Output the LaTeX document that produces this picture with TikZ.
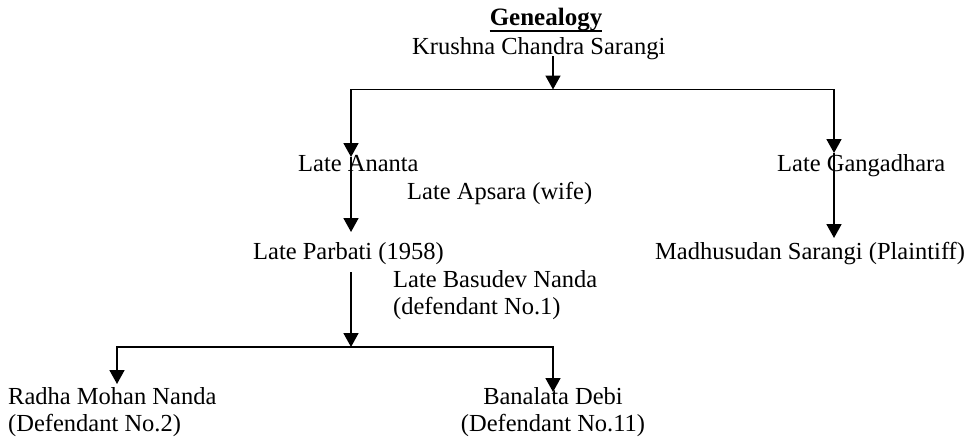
\documentclass[tikz,border=0pt]{standalone}
\usepackage{fontspec}
\setmainfont{Liberation Serif}
\usetikzlibrary{arrows.meta}
\begin{document}
\begin{tikzpicture}[x=1pt,y=-1pt,
  lbl/.style={inner sep=0pt, anchor=base west, font=\fontsize{24.5}{27}\selectfont},
  clbl/.style={inner sep=0pt, anchor=base, align=center, font=\fontsize{24.5}{27}\selectfont},
  conn/.style={line width=1.8pt, line cap=rect},
  arr/.style={line width=1.8pt, -{Triangle[width=15pt,length=14pt]}}]
\useasboundingbox (0,0) rectangle (975,439);
% texts
\node[clbl, font=\fontsize{25}{27}\selectfont\bfseries] (title) at (546,25) {Genealogy};
\draw[line width=1.5pt] ([yshift=-6pt]title.base west) -- ([yshift=-6pt]title.base east);
\node[lbl] (krushna) at (412,54) {Krushna Chandra Sarangi};
\node[lbl] (ananta) at (298,171) {Late Ananta};
\node[lbl] (apsara) at (407,199) {Late Apsara (wife)};
\node[lbl] (ganga) at (777,171) {Late Gangadhara};
\node[lbl] (parbati) at (253,259) {Late Parbati (1958)};
\node[lbl] (madhu) at (655,259) {Madhusudan Sarangi (Plaintiff)};
\node[lbl, align=left, anchor=north west] (basudev) at (393,270) {Late Basudev Nanda\\(defendant No.1)};
\node[lbl, align=left, anchor=north west] (radha) at (8,387) {Radha Mohan Nanda\\(Defendant No.2)};
\node[clbl, anchor=north] (banalata) at (553,387) {Banalata Debi\\(Defendant No.11)};
% connector points
\coordinate (kS) at (553,56);
\coordinate (kJ) at (553,89.5);
\coordinate (tL) at (351,89.5);
\coordinate (tR) at (834,89.5);
\coordinate (anT) at (351,157);
\coordinate (anB) at (351,157);
\coordinate (paT) at (351,232);
\coordinate (gaT) at (834,153);
\coordinate (gaB) at (834,153);
\coordinate (maT) at (834,238);
\coordinate (paB) at (351,272);
\coordinate (bJ) at (351,347);
\coordinate (bL) at (117,347);
\coordinate (bR) at (553,347);
\coordinate (raT) at (117,384);
\coordinate (baT) at (553,392);
% connectors
\draw[conn] (tL) -- (tR);
\draw[arr] (kS) -- (kJ);
\draw[arr] (tL) -- (anT);
\draw[arr] (tR) -- (gaT);
\draw[arr] (anB) -- (paT);
\draw[arr] (gaB) -- (maT);
\draw[conn] (bL) -- (bR);
\draw[arr] (paB) -- (bJ);
\draw[arr] (bL) -- (raT);
\draw[arr] (bR) -- (baT);
\end{tikzpicture}
\end{document}
